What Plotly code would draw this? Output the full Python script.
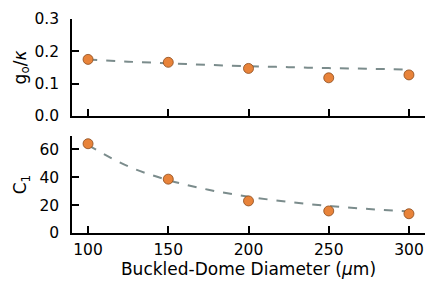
import plotly.graph_objects as go
from plotly.subplots import make_subplots

diam = [100, 150, 200, 250, 300]
g_ratio = [0.175, 0.166, 0.147, 0.118, 0.127]
c1 = [64.0, 38.6, 23.0, 15.8, 13.8]

fit_x = [100, 125, 150, 175, 200, 225, 250, 275, 300]
fit_g = [0.175, 0.168, 0.163, 0.158, 0.154, 0.151, 0.148, 0.146, 0.143]
fit_c1 = [63.0, 47.8, 37.9, 31.0, 26.0, 22.3, 19.4, 17.2, 15.4]

x_ticks = [100, 150, 200, 250, 300]
g_ticks = [0.0, 0.1, 0.2, 0.3]
c1_ticks = [0, 20, 40, 60]

FIT_COLOR = "#7b8c8c"
MARK_COLOR = "#e8833a"
EDGE = "#8a4a1c"
FONT = "DejaVu Sans"
TICK_SIZE = 15.5
TITLE_SIZE = 17

fig = make_subplots(rows=2, cols=1, shared_xaxes=False, vertical_spacing=0.094)

for row, fy, dy in [(1, fit_g, g_ratio), (2, fit_c1, c1)]:
    fig.add_trace(go.Scatter(x=fit_x, y=fy, mode="lines", line=dict(color=FIT_COLOR, width=2, dash="dash", shape="spline"),
                             showlegend=False, hoverinfo="skip"), row=row, col=1)
    fig.add_trace(go.Scatter(x=diam, y=dy, mode="markers",
                             marker=dict(color=MARK_COLOR, size=10, line=dict(color=EDGE, width=0.8)),
                             showlegend=False, cliponaxis=False), row=row, col=1)

axis_common = dict(showline=True, linecolor="black", linewidth=1.5, ticks="inside", ticklen=7,
                   tickwidth=1.5, tickcolor="black", showgrid=False, zeroline=False, mirror=False,
                   automargin=False,
                   tickfont=dict(family=FONT, size=TICK_SIZE, color="black"))

fig.update_xaxes(range=[90, 310], tickvals=x_ticks, **axis_common)
fig.update_xaxes(showticklabels=False, row=1, col=1)
fig.update_xaxes(ticktext=[str(v) for v in x_ticks],
                 title=dict(text="Buckled-Dome Diameter (<i>μ</i>m)", font=dict(family=FONT, size=TITLE_SIZE, color="black"), standoff=0),
                 ticklabelstandoff=2, row=2, col=1)
fig.update_yaxes(range=[0, 0.3], tickvals=g_ticks, ticktext=[f"{v:.1f}" for v in g_ticks],
                 title=dict(text="g<sub>o</sub>/<i>κ</i>", font=dict(family=FONT, size=TITLE_SIZE, color="black"), standoff=4),
                 ticklabelstandoff=8, row=1, col=1, **axis_common)
fig.update_yaxes(range=[0, 69.5], tickvals=c1_ticks, ticktext=[str(v) for v in c1_ticks],
                 title=dict(text="C<sub>1</sub>", font=dict(family=FONT, size=TITLE_SIZE, color="black"), standoff=8),
                 ticklabelstandoff=8, row=2, col=1, **axis_common)

fig.update_layout(width=436, height=291, margin=dict(l=72, r=11, t=19, b=58),
                  plot_bgcolor="white", paper_bgcolor="white",
                  font=dict(family=FONT, size=TICK_SIZE, color="black"))
fig.write_html("out.html", config={"displayModeBar": False},
               post_script="document.body.style.margin='0';document.body.style.overflow='hidden';")
